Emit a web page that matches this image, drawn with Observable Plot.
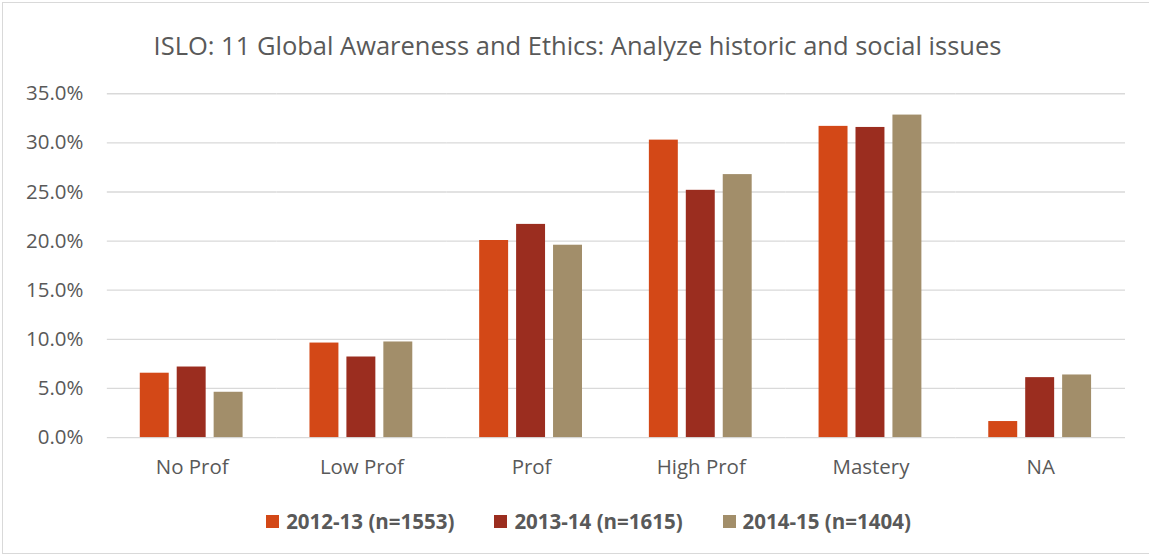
<!DOCTYPE html>
<html>
<head>
<meta charset="utf-8">
<script src="https://cdn.jsdelivr.net/npm/d3@7"></script>
<script src="https://cdn.jsdelivr.net/npm/@observablehq/plot@0.6"></script>
<style>
  html, body { margin: 0; padding: 0; background: #fff; }
  #frame { position: relative; width: 1147px; height: 552px; margin: 2px 0 0 2px; border: 1px solid #d9d9d9; border-right: none; box-sizing: border-box; overflow: hidden; font-family: "Open Sans", Lato, sans-serif; }
  #title { position: absolute; top: 25px; left: -1px; width: 1151px; text-align: center; font-size: 25.5px; color: #595959; white-space: nowrap; }
  #chart { position: absolute; left: -3px; top: 67px; }
  #legend { position: absolute; top: 504px; left: 0; width: 1151px; display: flex; justify-content: center; gap: 40px; font-size: 20.5px; font-weight: bold; color: #595959; padding-left: 20px; box-sizing: border-box; }
  .item { display: flex; align-items: center; gap: 7px; }
  .sw { width: 13px; height: 13px; display: inline-block; }
</style>
</head>
<body>
<div id="frame">
  <div id="title"></div>
  <div id="chart"></div>
  <div id="legend"></div>
</div>
<script>
const titleText = "ISLO: 11 Global Awareness and Ethics: Analyze historic and social issues";
const categories = ["No Prof", "Low Prof", "Prof", "High Prof", "Mastery", "NA"];
const series = ["2012-13 (n=1553)", "2013-14 (n=1615)", "2014-15 (n=1404)"];
const colors = ["#d34817", "#9b2d1f", "#a28e6a"];
const values2012 = [6.55, 9.62, 20.06, 30.28, 31.68, 1.63];
const values2013 = [7.18, 8.20, 21.70, 25.17, 31.57, 6.10];
const values2014 = [4.61, 9.73, 19.58, 26.77, 32.83, 6.37];
const yTicks = [0, 5, 10, 15, 20, 25, 30, 35];

const seriesValues = [values2012, values2013, values2014];
const data = [];
categories.forEach((c, i) => {
  series.forEach((s, j) => data.push({cat: c, series: s, value: seriesValues[j][i]}));
});

document.getElementById("title").textContent = titleText;

const chart = Plot.plot({
  width: 1151,
  height: 423,
  marginLeft: 105,
  marginRight: 23,
  marginTop: 23.3,
  marginBottom: 55.3,
  style: {fontFamily: "'Open Sans', Lato, sans-serif", fontSize: "20.5px", color: "#595959", background: "transparent"},
  fx: {domain: categories, padding: 0, label: null, axis: "bottom", tickSize: 0, tickPadding: 22},
  x: {domain: series, axis: null, paddingInner: 0.21, paddingOuter: 0.85},
  y: {domain: [0, 35], ticks: yTicks, tickFormat: d => d.toFixed(1) + "%", label: null, tickSize: 0, tickPadding: 24},
  color: {domain: series, range: colors},
  marks: [
    Plot.ruleY(yTicks, {stroke: "#d9d9d9", strokeWidth: 1.3}),
    Plot.barY(data, {fx: "cat", x: "series", y: "value", fill: "series"})
  ]
});
document.getElementById("chart").appendChild(chart);

const legend = document.getElementById("legend");
series.forEach((s, j) => {
  const item = document.createElement("div");
  item.className = "item";
  const sw = document.createElement("span");
  sw.className = "sw";
  sw.style.background = colors[j];
  const t = document.createElement("span");
  t.textContent = s;
  item.appendChild(sw);
  item.appendChild(t);
  legend.appendChild(item);
});
</script>
</body>
</html>
